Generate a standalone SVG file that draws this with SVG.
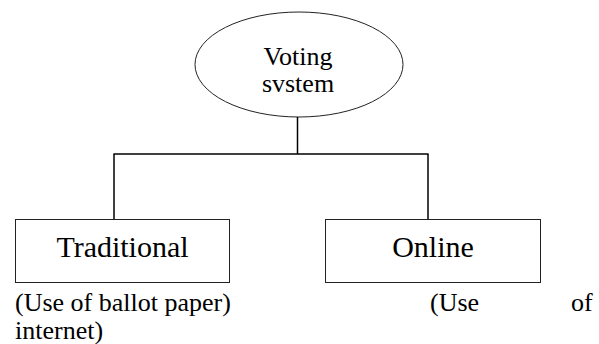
<svg xmlns="http://www.w3.org/2000/svg" width="599" height="344" viewBox="0 0 599 344">
<style>
.t{font-family:"Liberation Serif","Times New Roman",serif;fill:#000}
.n{fill:#fff;stroke:#222;stroke-width:1}
.c{fill:none;stroke:#000;stroke-width:1.5}
</style>
<rect width="599" height="344" fill="#fff"/>
<g id="voting-system">
<ellipse class="n" cx="299" cy="64.5" rx="104" ry="52.5"/>
<text class="t" x="298" y="65" font-size="26" text-anchor="middle">Voting</text>
<text class="t" x="298" y="92" font-size="26" text-anchor="middle">svstem</text>
</g>
<g id="connectors">
<line class="c" x1="297.5" y1="117" x2="297.5" y2="154"/>
<line class="c" x1="113.5" y1="154" x2="428.5" y2="154" stroke-width="2.5"/>
<line class="c" x1="114" y1="154" x2="114" y2="219"/>
<line class="c" x1="428" y1="154" x2="428" y2="219"/>
</g>
<g id="traditional">
<rect class="n" x="15.5" y="219.5" width="214" height="63"/>
<text class="t" x="122.5" y="257" font-size="30" text-anchor="middle">Traditional</text>
</g>
<g id="online">
<rect class="n" x="325.5" y="219.5" width="215" height="63"/>
<text class="t" x="433" y="257" font-size="30" text-anchor="middle">Online</text>
</g>
<g id="notes">
<text class="t" x="15" y="311" font-size="26">(Use of ballot paper)</text>
<text class="t" x="430" y="311" font-size="26">(Use</text>
<text class="t" x="571" y="311" font-size="26">of</text>
<text class="t" x="15" y="339" font-size="26">internet)</text>
</g>
</svg>
